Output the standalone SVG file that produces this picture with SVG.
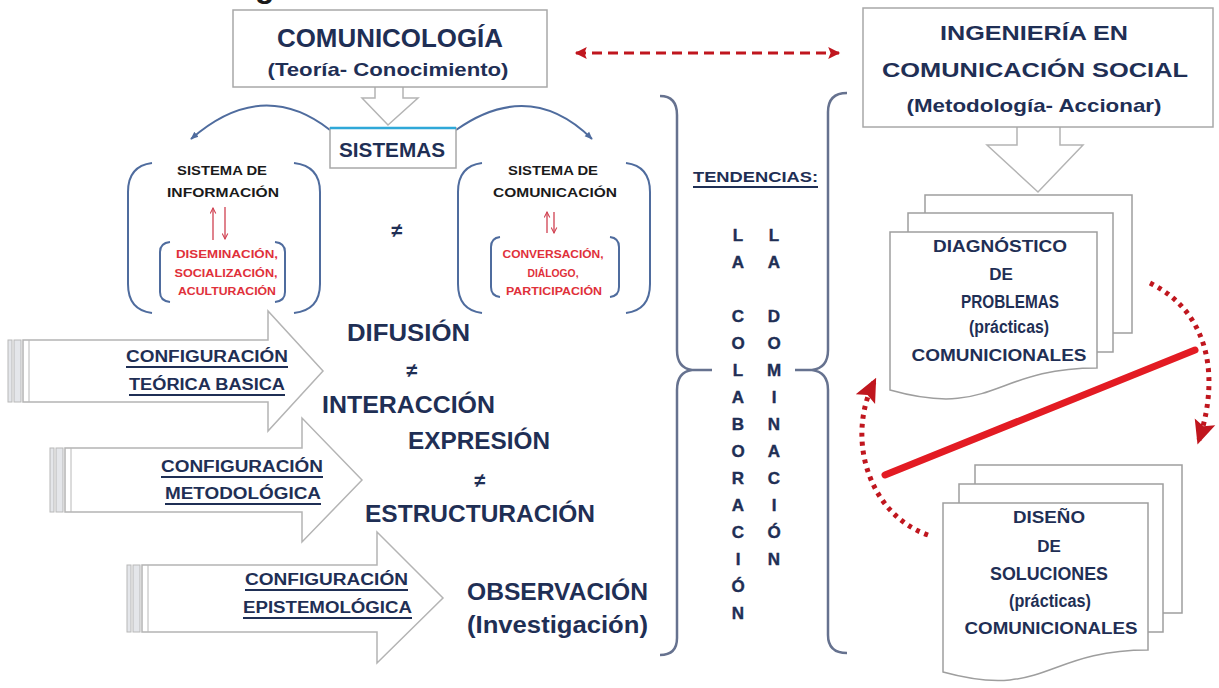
<svg xmlns="http://www.w3.org/2000/svg" width="1219" height="688" viewBox="0 0 1219 688">
<defs>
<style>
text{font-family:"Liberation Sans",Arial,sans-serif;font-weight:bold;fill:#1F2F55}
.c{text-anchor:middle}
.blk{fill:#1a1a1a}
.red{fill:#E0303A}
.box{fill:#fff;stroke:#A8A8A8;stroke-width:1.5}
.hol{fill:#fff;stroke:#B4B4B4;stroke-width:1.5}
.bar{fill:#E4E6EA;stroke:#B8B8B8;stroke-width:1}
.brk{fill:none;stroke:#4F6C9E;stroke-width:2}
.brace{fill:none;stroke:#66728F;stroke-width:2.5}
.ul{stroke:#1F2F55;stroke-width:1.8}
.doc{fill:#fff;stroke:#9E9E9E;stroke-width:1.5}
.v{font-size:17px;text-anchor:middle;stroke:#1F2F55;stroke-width:0.4}
</style>
<marker id="blueHead" viewBox="0 0 10 10" refX="9" refY="5" markerWidth="8" markerHeight="8" markerUnits="userSpaceOnUse" orient="auto"><path d="M0,1 L10,5 L0,9 Z" fill="#4F6C9E"/></marker>
<marker id="redHead" viewBox="0 0 10 10" refX="9" refY="5" markerWidth="14" markerHeight="12" markerUnits="userSpaceOnUse" orient="auto-start-reverse"><path d="M0,0 L10,5 L0,10 L2,5 Z" fill="#C0161E"/></marker>
<marker id="dotHead" viewBox="0 0 10 10" refX="8" refY="5" markerWidth="24" markerHeight="24" markerUnits="userSpaceOnUse" orient="auto"><path d="M0,0.5 L10,5 L0,9.5 L2,5 Z" fill="#C0161E"/></marker>
<marker id="thinHead" viewBox="0 0 10 10" refX="9" refY="5" markerWidth="7" markerHeight="7" markerUnits="userSpaceOnUse" orient="auto"><path d="M1,1 L9,5 L1,9" fill="none" stroke="#D04050" stroke-width="1.5"/></marker>
</defs>
<rect x="0" y="0" width="1219" height="688" fill="#fff"/>
<text x="255" y="-3" class="blk" font-size="32">g</text>

<g id="connectors">
<path d="M375,80 V98 H362 L388,125 L418,98 H403 V80" class="hol"/>
<path d="M1017,120 V145 H987 L1038,192 L1083,145 H1060 V120" class="hol"/>
<path d="M330,130 Q262,77 191,139" fill="none" stroke="#4F6C9E" stroke-width="2" marker-end="url(#blueHead)"/>
<path d="M456,130 Q530,78 592,139" fill="none" stroke="#4F6C9E" stroke-width="2" marker-end="url(#blueHead)"/>
<line x1="576" y1="53" x2="839" y2="53" stroke="#C0161E" stroke-width="3" stroke-dasharray="10 6" marker-start="url(#redHead)" marker-end="url(#redHead)"/>
<line x1="885" y1="475" x2="1195" y2="350" stroke="#E31B23" stroke-width="7" stroke-linecap="round"/>
<path d="M928,535 C870,515 845,440 874,382" fill="none" stroke="#C0161E" stroke-width="5" stroke-dasharray="4 5" marker-end="url(#dotHead)"/>
<path d="M1150,283 C1205,310 1222,370 1199,440" fill="none" stroke="#C0161E" stroke-width="5" stroke-dasharray="4 5" marker-end="url(#dotHead)"/>
<path d="M660,96 Q677,96 677,115 V350 Q677,368 692,370 H712 M692,370 Q677,372 677,390 V638 Q677,655 660,655" class="brace"/>
<path d="M847,93 Q828,93 828,112 V350 Q828,368 812,370 H795 M812,370 Q828,372 828,390 V635 Q828,653 847,653" class="brace"/>
</g>

<g id="comunicologia">
<rect x="233" y="10" width="314" height="77" class="box"/>
<text x="390" y="47" class="c" font-size="25" textLength="226" lengthAdjust="spacingAndGlyphs">COMUNICOLOGÍA</text>
<text x="388" y="76" class="c" font-size="19" textLength="241" lengthAdjust="spacingAndGlyphs">(Teoría- Conocimiento)</text>
</g>

<g id="sistemas">
<rect x="330" y="128" width="126" height="40" class="box"/>
<line x1="330" y1="128" x2="456" y2="128" stroke="#2FA8D8" stroke-width="2.5"/>
<text x="392" y="157" class="c" font-size="21" textLength="106" lengthAdjust="spacingAndGlyphs">SISTEMAS</text>
</g>

<g id="sistema-informacion">
<path d="M152,163 Q128,166 128,192 V284 Q128,310 152,313" class="brk"/>
<path d="M294,163 Q320,166 320,192 V284 Q320,310 294,313" class="brk"/>
<text x="222" y="175" class="c blk" font-size="13" textLength="90" lengthAdjust="spacingAndGlyphs">SISTEMA DE</text>
<text x="223" y="197" class="c blk" font-size="13" textLength="112" lengthAdjust="spacingAndGlyphs">INFORMACIÓN</text>
<line x1="213" y1="240" x2="213" y2="208" stroke="#D04050" stroke-width="1.3" marker-end="url(#thinHead)"/>
<line x1="225" y1="207" x2="225" y2="239" stroke="#D04050" stroke-width="1.3" marker-end="url(#thinHead)"/>
<path d="M170,242 Q160,243 160,252 V292 Q160,301 170,302" class="brk"/>
<path d="M275,242 Q285,243 285,252 V292 Q285,301 275,302" class="brk"/>
<text x="227" y="258" class="c red" font-size="11" textLength="102" lengthAdjust="spacingAndGlyphs">DISEMINACIÓN,</text>
<text x="226" y="277" class="c red" font-size="11" textLength="103" lengthAdjust="spacingAndGlyphs">SOCIALIZACIÓN,</text>
<text x="227" y="295" class="c red" font-size="11" textLength="98" lengthAdjust="spacingAndGlyphs">ACULTURACIÓN</text>
</g>

<text x="397" y="237" class="c" font-size="20">≠</text>

<g id="sistema-comunicacion">
<path d="M482,163 Q458,166 458,192 V284 Q458,310 482,313" class="brk"/>
<path d="M626,163 Q650,166 650,192 V284 Q650,310 626,313" class="brk"/>
<text x="553" y="175" class="c blk" font-size="13" textLength="90" lengthAdjust="spacingAndGlyphs">SISTEMA DE</text>
<text x="555" y="197" class="c blk" font-size="13" textLength="124" lengthAdjust="spacingAndGlyphs">COMUNICACIÓN</text>
<line x1="547" y1="233" x2="547" y2="212" stroke="#D04050" stroke-width="1.3" marker-end="url(#thinHead)"/>
<line x1="554" y1="212" x2="554" y2="233" stroke="#D04050" stroke-width="1.3" marker-end="url(#thinHead)"/>
<path d="M500,237 Q491,238 491,247 V287 Q491,296 500,297" class="brk"/>
<path d="M610,237 Q619,238 619,247 V287 Q619,296 610,297" class="brk"/>
<text x="553" y="258" class="c red" font-size="11" textLength="101" lengthAdjust="spacingAndGlyphs">CONVERSACIÓN,</text>
<text x="553" y="277" class="c red" font-size="11" textLength="51" lengthAdjust="spacingAndGlyphs">DIÁLOGO,</text>
<text x="554" y="295" class="c red" font-size="11" textLength="96" lengthAdjust="spacingAndGlyphs">PARTICIPACIÓN</text>
</g>

<g id="config-teorica">
<rect x="8" y="340" width="4" height="62" class="bar"/>
<rect x="14" y="340" width="7" height="62" class="bar"/>
<path d="M23,340 H268 V311 L323,371 L268,431 V402 H23 Z" class="hol"/>
<line x1="29" y1="340" x2="29" y2="402" stroke="#B8B8B8" stroke-width="1"/>
<text x="126" y="362" font-size="16" textLength="162" lengthAdjust="spacingAndGlyphs">CONFIGURACIÓN</text>
<line x1="126" y1="367" x2="288" y2="367" class="ul"/>
<text x="129" y="390" font-size="16" textLength="156" lengthAdjust="spacingAndGlyphs">TEÓRICA BASICA</text>
<line x1="129" y1="395" x2="285" y2="395" class="ul"/>
</g>

<g id="config-metodologica">
<rect x="50" y="448" width="4" height="64" class="bar"/>
<rect x="56" y="448" width="7" height="64" class="bar"/>
<path d="M65,448 H302 V418 L362,480 L302,542 V512 H65 Z" class="hol"/>
<line x1="71" y1="448" x2="71" y2="512" stroke="#B8B8B8" stroke-width="1"/>
<text x="161" y="472" font-size="16" textLength="162" lengthAdjust="spacingAndGlyphs">CONFIGURACIÓN</text>
<line x1="161" y1="477" x2="323" y2="477" class="ul"/>
<text x="165" y="499" font-size="16" textLength="156" lengthAdjust="spacingAndGlyphs">METODOLÓGICA</text>
<line x1="165" y1="504" x2="321" y2="504" class="ul"/>
</g>

<g id="config-epistemologica">
<rect x="127" y="565" width="4" height="67" class="bar"/>
<rect x="133" y="565" width="7" height="67" class="bar"/>
<path d="M142,565 H377 V532 L443,598 L377,663 V632 H142 Z" class="hol"/>
<line x1="148" y1="565" x2="148" y2="632" stroke="#B8B8B8" stroke-width="1"/>
<text x="245" y="585" font-size="16" textLength="163" lengthAdjust="spacingAndGlyphs">CONFIGURACIÓN</text>
<line x1="245" y1="590" x2="408" y2="590" class="ul"/>
<text x="243" y="613" font-size="16" textLength="169" lengthAdjust="spacingAndGlyphs">EPISTEMOLÓGICA</text>
<line x1="243" y1="618" x2="412" y2="618" class="ul"/>
</g>

<g id="conceptos">
<text x="347" y="341" font-size="23" textLength="123" lengthAdjust="spacingAndGlyphs">DIFUSIÓN</text>
<text x="412" y="377" class="c" font-size="20">≠</text>
<text x="322" y="413" font-size="23" textLength="173" lengthAdjust="spacingAndGlyphs">INTERACCIÓN</text>
<text x="408" y="449" font-size="23" textLength="142" lengthAdjust="spacingAndGlyphs">EXPRESIÓN</text>
<text x="480" y="487" class="c" font-size="20">≠</text>
<text x="365" y="522" font-size="23" textLength="230" lengthAdjust="spacingAndGlyphs">ESTRUCTURACIÓN</text>
</g>

<g id="observacion">
<text x="467" y="600" font-size="23" textLength="181" lengthAdjust="spacingAndGlyphs">OBSERVACIÓN</text>
<text x="467" y="633" font-size="23" textLength="181" lengthAdjust="spacingAndGlyphs">(Investigación)</text>
</g>

<g id="tendencias">
<text x="693" y="182" font-size="15" textLength="125" lengthAdjust="spacingAndGlyphs">TENDENCIAS:</text>
<line x1="693" y1="187" x2="818" y2="187" class="ul"/>
<text x="738" y="241" class="v">L</text><text x="738" y="268" class="v">A</text>
<text x="738" y="322" class="v">C</text><text x="738" y="349" class="v">O</text>
<text x="738" y="376" class="v">L</text><text x="738" y="403" class="v">A</text>
<text x="738" y="430" class="v">B</text><text x="738" y="457" class="v">O</text>
<text x="738" y="484" class="v">R</text><text x="738" y="511" class="v">A</text>
<text x="738" y="538" class="v">C</text><text x="738" y="565" class="v">I</text>
<text x="738" y="592" class="v">Ó</text><text x="738" y="619" class="v">N</text>
<text x="774" y="241" class="v">L</text><text x="774" y="268" class="v">A</text>
<text x="774" y="322" class="v">D</text><text x="774" y="349" class="v">O</text>
<text x="774" y="376" class="v">M</text><text x="774" y="403" class="v">I</text>
<text x="774" y="430" class="v">N</text><text x="774" y="457" class="v">A</text>
<text x="774" y="484" class="v">C</text><text x="774" y="511" class="v">I</text>
<text x="774" y="538" class="v">Ó</text><text x="774" y="565" class="v">N</text>
</g>

<g id="ingenieria">
<rect x="863" y="8" width="350" height="119" class="box"/>
<text x="1034" y="40" class="c" font-size="21" textLength="188" lengthAdjust="spacingAndGlyphs">INGENIERÍA EN</text>
<text x="1035" y="77" class="c" font-size="21" textLength="306" lengthAdjust="spacingAndGlyphs">COMUNICACIÓN SOCIAL</text>
<text x="1034" y="112" class="c" font-size="19" textLength="255" lengthAdjust="spacingAndGlyphs">(Metodología- Accionar)</text>
</g>

<g id="diagnostico">
<rect x="925" y="195" width="207" height="138" class="doc"/>
<rect x="908" y="213" width="205" height="139" class="doc"/>
<path d="M890,232 H1097 V368 C993,368 993,419 890,390 Z" class="doc"/>
<text x="1000" y="252" class="c" font-size="17" textLength="134" lengthAdjust="spacingAndGlyphs">DIAGNÓSTICO</text>
<text x="1001" y="280" class="c" font-size="17">DE</text>
<text x="1010" y="308" class="c" font-size="18" textLength="98" lengthAdjust="spacingAndGlyphs">PROBLEMAS</text>
<text x="1009" y="333" class="c" font-size="18" textLength="80" lengthAdjust="spacingAndGlyphs">(prácticas)</text>
<text x="999" y="361" class="c" font-size="17" textLength="175" lengthAdjust="spacingAndGlyphs">COMUNICIONALES</text>
</g>

<g id="diseno">
<rect x="975" y="465" width="207" height="148" class="doc"/>
<rect x="959" y="484" width="204" height="148" class="doc"/>
<path d="M943,503 H1148 V650 C1045,650 1045,700 943,672 Z" class="doc"/>
<text x="1049" y="523" class="c" font-size="17" textLength="72" lengthAdjust="spacingAndGlyphs">DISEÑO</text>
<text x="1049" y="552" class="c" font-size="17">DE</text>
<text x="1049" y="580" class="c" font-size="18" textLength="118" lengthAdjust="spacingAndGlyphs">SOLUCIONES</text>
<text x="1050" y="607" class="c" font-size="18" textLength="82" lengthAdjust="spacingAndGlyphs">(prácticas)</text>
<text x="1051" y="634" class="c" font-size="17" textLength="173" lengthAdjust="spacingAndGlyphs">COMUNICIONALES</text>
</g>
</svg>
